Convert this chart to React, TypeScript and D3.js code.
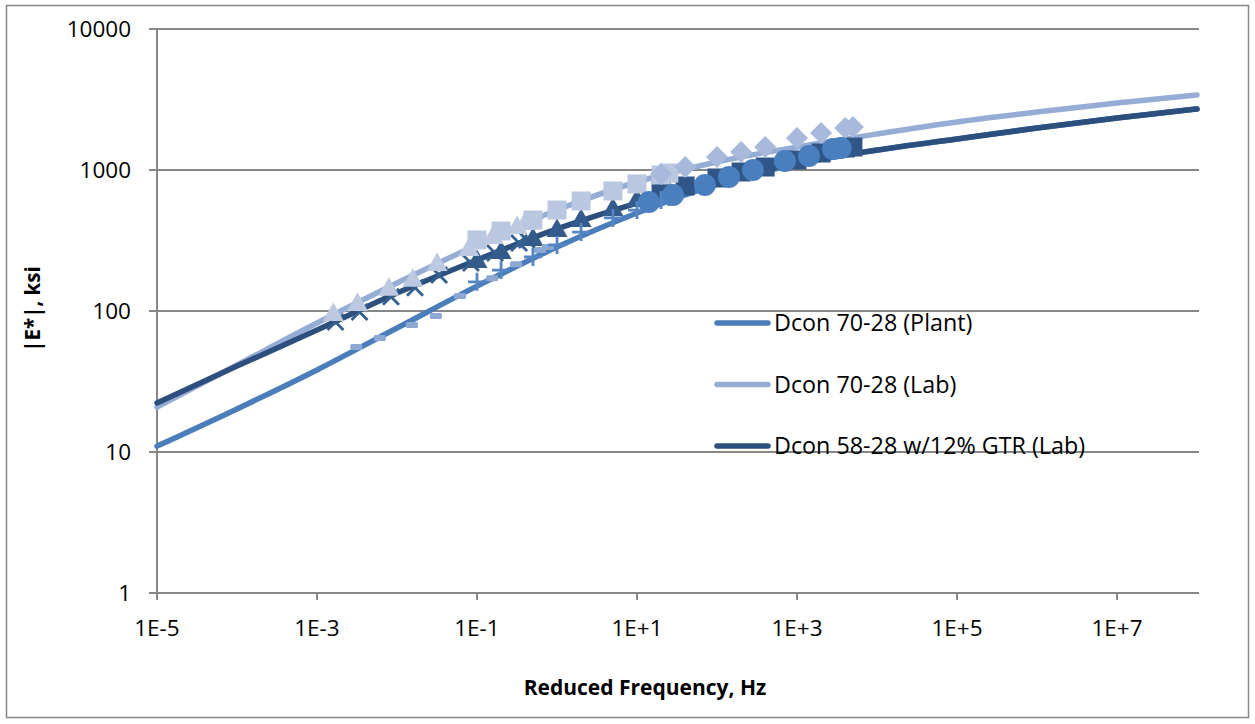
import React from "react";
import * as d3 from "d3";

// Master curves (fitted), read at each decade of reduced frequency
const curveFreq = [1e-5, 1e-4, 1e-3, 1e-2, 1e-1, 1, 10, 100, 1e3, 1e4, 1e5, 1e6, 1e7, 1e8];
const curvePlant = [11.0, 20.2, 38.2, 75.7, 150, 284, 495, 790, 1100, 1380, 1660, 1985, 2337, 2709];
const curveLab = [20.8, 41.4, 82.2, 158, 294, 520, 822, 1140, 1456, 1800, 2190, 2578, 2987, 3404];
const curveGTR = [22.3, 40.7, 73.3, 134, 230, 382, 583, 836, 1122, 1386, 1660, 1985, 2337, 2709];

// Measured data (reduced frequency, Hz / |E*|, ksi)
const plantHighTF = [0.0031, 0.0061, 0.0154, 0.0307, 0.0614, 0.154, 0.307, 0.614, 0.77];
const plantHighTE = [55.6, 64.4, 79.6, 92.2, 128, 171, 215, 271, 284];
const plantMidTF = [0.1, 0.2, 0.5, 1, 2, 5, 10, 20, 25];
const plantMidTE = [161, 195, 242, 294, 363, 457, 520, 613, 644];
const plantLowTF = [14.1, 28.2, 70.6, 141, 282, 706, 1410, 2820, 3530];
const plantLowTE = [593, 665, 783, 892, 1000, 1158, 1257, 1409, 1432];

const labHighTF = [0.0016, 0.0032, 0.0079, 0.0158, 0.0317, 0.079, 0.158, 0.317, 0.4];
const labHighTE = [96.8, 114, 146, 169, 219, 280, 340, 401, 428];
const labMidTF = [0.1, 0.2, 0.5, 1, 2, 5, 10, 20, 25];
const labMidTE = [319, 369, 442, 520, 603, 710, 796, 922, 952];
const labLowTF = [20, 40, 100, 200, 400, 1000, 2000, 4000, 5000];
const labLowTE = [937, 1050, 1236, 1342, 1456, 1686, 1830, 1985, 2018];

const gtrHighTF = [0.0017, 0.0034, 0.0084, 0.0168, 0.0336, 0.084, 0.168, 0.336, 0.42];
const gtrHighTE = [83.5, 98.4, 126, 146, 180, 219, 258, 304, 319];
const gtrMidTF = [0.1, 0.2, 0.5, 1, 2, 5, 10, 20, 25];
const gtrMidTE = [230, 266, 329, 382, 449, 538, 623, 698, 721];
const gtrLowTF = [20, 40, 100, 200, 400, 1000, 2000, 4000, 5000];
const gtrLowTE = [721, 770, 878, 968, 1050, 1178, 1320, 1432, 1456];

const xTickValues = [1e-5, 1e-3, 1e-1, 1e1, 1e3, 1e5, 1e7];
const xTickLabels = ["1E-5", "1E-3", "1E-1", "1E+1", "1E+3", "1E+5", "1E+7"];
const yTickValues = [1, 10, 100, 1000, 10000];
const yTickLabels = ["1", "10", "100", "1000", "10000"];

const legendNames = ["Dcon 70-28 (Plant)", "Dcon 70-28 (Lab)", "Dcon 58-28 w/12% GTR (Lab)"];

const C_PLANT = "#4a7ebb";
const C_LAB = "#95acd5";
const C_GTR = "#2c4f7e";
const GRID = "#878787";
const FONT = "'Open Sans', 'Liberation Sans', sans-serif";

type Shape = "triangle" | "square" | "diamond" | "circle" | "x" | "plus" | "dash";

export default function App() {
  const W = 1255, H = 724;
  const x = d3.scaleLog().domain([1e-5, 1e8]).range([157, 1197]);
  const y = d3.scaleLog().domain([1, 10000]).range([593, 29]);

  const line = d3
    .line<[number, number]>()
    .x((d) => x(d[0]))
    .y((d) => y(d[1]))
    .curve(d3.curveMonotoneX);

  const curves = [
    { vals: curvePlant, color: C_PLANT },
    { vals: curveLab, color: C_LAB },
    { vals: curveGTR, color: C_GTR },
  ];

  const markerSeries: { f: number[]; e: number[]; shape: Shape; color: string }[] = [
    { f: gtrHighTF, e: gtrHighTE, shape: "x", color: "#35608f" },
    { f: gtrMidTF, e: gtrMidTE, shape: "triangle", color: "#335c8d" },
    { f: gtrLowTF, e: gtrLowTE, shape: "square", color: "#2f5686" },
    { f: labHighTF, e: labHighTE, shape: "triangle", color: "#bcc9e1" },
    { f: labMidTF, e: labMidTE, shape: "square", color: "#bac7e0" },
    { f: labLowTF, e: labLowTE, shape: "diamond", color: "#a8badb" },
    { f: plantHighTF, e: plantHighTE, shape: "dash", color: "#8ea8d4" },
    { f: plantMidTF, e: plantMidTE, shape: "plus", color: "#5585c2" },
    { f: plantLowTF, e: plantLowTE, shape: "circle", color: "#4a7fbf" },
  ];

  const renderMarker = (shape: Shape, cx: number, cy: number, color: string, key: string) => {
    switch (shape) {
      case "triangle":
        return (
          <path key={key} d={`M${cx},${cy - 10.5} L${cx + 10.5},${cy + 8} L${cx - 10.5},${cy + 8} Z`} fill={color} />
        );
      case "square":
        return <rect key={key} x={cx - 9.5} y={cy - 9.5} width={19} height={19} fill={color} />;
      case "diamond":
        return (
          <path key={key} d={`M${cx},${cy - 11} L${cx + 11},${cy} L${cx},${cy + 11} L${cx - 11},${cy} Z`} fill={color} />
        );
      case "circle":
        return <circle key={key} cx={cx} cy={cy} r={11} fill={color} />;
      case "x":
        return (
          <path
            key={key}
            d={`M${cx - 8},${cy - 8} L${cx + 8},${cy + 8} M${cx - 8},${cy + 8} L${cx + 8},${cy - 8}`}
            stroke={color}
            strokeWidth={2.8}
            fill="none"
          />
        );
      case "plus":
        return (
          <path
            key={key}
            d={`M${cx - 9},${cy} L${cx + 9},${cy} M${cx},${cy - 9} L${cx},${cy + 9}`}
            stroke={color}
            strokeWidth={2.8}
            fill="none"
          />
        );
      case "dash":
        return <rect key={key} x={cx - 6} y={cy - 3} width={12} height={6} rx={1.5} fill={color} />;
    }
  };

  return (
    <svg
      width={W}
      height={H}
      style={{ position: "absolute", left: 0, top: 0, background: "#fff" }}
      fontFamily={FONT}
    >
      <rect x={0} y={0} width={W} height={H} fill="#fff" />
      <rect x={6.5} y={5.5} width={1242} height={712} fill="none" stroke={GRID} strokeWidth={1.5} />

      {/* horizontal gridlines + y ticks */}
      {yTickValues.map((v, i) => (
        <g key={`yg${i}`}>
          <line x1={149} x2={1199} y1={y(v)} y2={y(v)} stroke={GRID} strokeWidth={2} />
          <text x={131} y={y(v)} dy="0.36em" textAnchor="end" fontSize={22.5} fill="#000">
            {yTickLabels[i]}
          </text>
        </g>
      ))}
      {/* y axis */}
      <line x1={157} x2={157} y1={29} y2={594} stroke={GRID} strokeWidth={2} />
      {/* x ticks */}
      {xTickValues.map((v, i) => (
        <g key={`xt${i}`}>
          <line x1={x(v)} x2={x(v)} y1={593} y2={600} stroke={GRID} strokeWidth={2} />
          <text x={x(v)} y={636} textAnchor="middle" fontSize={22.5} fill="#000">
            {xTickLabels[i]}
          </text>
        </g>
      ))}

      {/* master curves */}
      {curves.map((c, i) => (
        <path
          key={`c${i}`}
          d={line(curveFreq.map((f, j) => [f, c.vals[j]] as [number, number])) || ""}
          fill="none"
          stroke={c.color}
          strokeWidth={5.5}
          strokeLinecap="round"
        />
      ))}

      {/* measured data */}
      {markerSeries.map((s, si) => (
        <g key={`m${si}`}>
          {s.f.map((f, j) => renderMarker(s.shape, x(f), y(s.e[j]), s.color, `m${si}-${j}`))}
        </g>
      ))}

      {/* legend */}
      {legendNames.map((name, i) => {
        const ly = 323 + i * 61.5;
        const col = [C_PLANT, C_LAB, C_GTR][i];
        return (
          <g key={`lg${i}`}>
            <line x1={717} x2={768} y1={ly} y2={ly} stroke={col} strokeWidth={5.5} strokeLinecap="round" />
            <text x={774} y={ly} dy="0.36em" fontSize={23.3} fill="#000">
              {name}
            </text>
          </g>
        );
      })}

      {/* axis titles */}
      <text x={645} y={695} textAnchor="middle" fontSize={21} fontWeight="bold" fill="#000">
        Reduced Frequency, Hz
      </text>
      <text
        transform={`translate(40,309) rotate(-90)`}
        textAnchor="middle"
        fontSize={20.5}
        fontWeight="bold"
        fill="#000"
      >
        |E*|, ksi
      </text>
    </svg>
  );
}
